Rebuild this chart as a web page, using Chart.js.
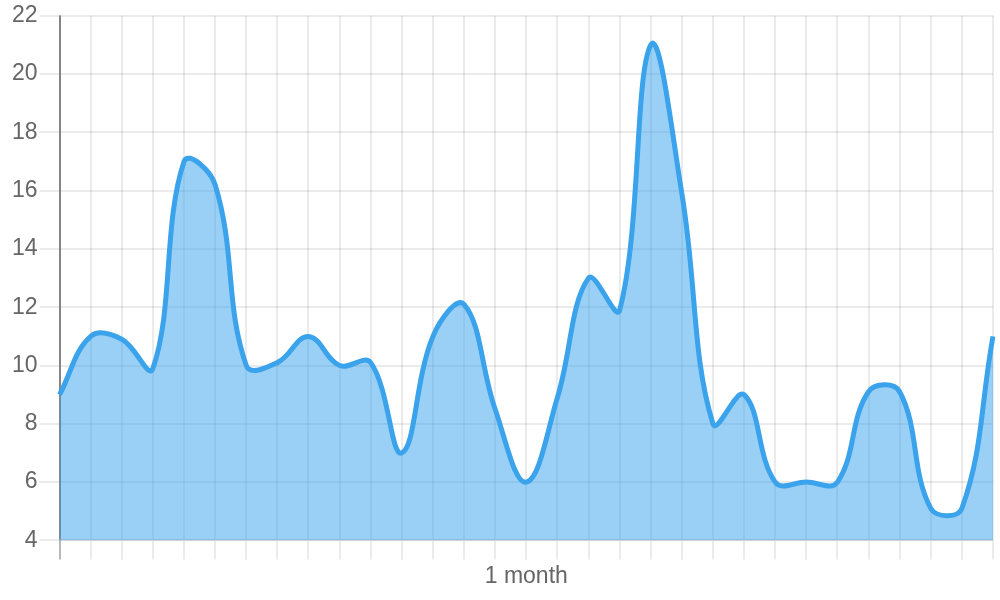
<!DOCTYPE html>
<html>
<head>
<meta charset="utf-8">
<script src="https://cdn.jsdelivr.net/npm/chart.js@4/dist/chart.umd.min.js"></script>
<style>
	html, body { margin: 0; padding: 0; background: #fff; }
	#wrap { width: 1000px; height: 600px; }
</style>
</head>
<body>
<div id="wrap"><canvas id="myChart"></canvas></div>
<script>
const labels = ['', '', '', '', '', '', '', '', '', '', '', '', '', '', '', '1 month',
	'', '', '', '', '', '', '', '', '', '', '', '', '', '', ''];
const values = [9, 11, 10.9, 9.9, 17.0, 16.2, 10, 10.1, 11, 10, 10.1, 7, 11, 12.1, 8.5, 6,
	8.9, 13, 11.9, 21, 15.9, 8, 9, 6, 6, 6, 9.1, 9.1, 5.1, 5.1, 11];
const yMin = 4;
const yMax = 22;
const yStep = 2;

const ctx = document.getElementById('myChart').getContext('2d');

const gridColor = 'rgba(0,0,0,0.08)';
const axisColor = 'rgba(0,0,0,0.28)';
const tickFont = { size: 23, family: 'Liberation Sans, Arial, sans-serif' };

const data = {
	labels: labels,
	datasets: [{
		data: values,
		borderColor: '#3aa3eb',
		backgroundColor: 'rgba(54, 162, 235, 0.5)',
		borderWidth: 5,
		pointRadius: 0,
		tension: 0.4,
		fill: true
	}]
};

const config = {
	type: 'line',
	data: data,
	options: {
		responsive: true,
		maintainAspectRatio: false,
		animation: false,
		layout: {
			padding: { left: 10, right: 7, bottom: 7, top: -1 }
		},
		plugins: {
			legend: { display: false },
			tooltip: { enabled: false }
		},
		scales: {
			x: {
				grid: {
					// first vertical line is the darker zero line
					color: (c) => c.index === 0 ? axisColor : gridColor,
					lineWidth: 2,
					tickLength: 19
				},
				border: { color: gridColor, width: 2 },
				ticks: {
					autoSkip: false,
					maxRotation: 0,
					color: '#666',
					font: tickFont
				}
			},
			y: {
				min: yMin,
				max: yMax,
				grid: {
					color: gridColor,
					lineWidth: 2,
					tickLength: 20
				},
				border: { color: axisColor, width: 2 },
				ticks: {
					stepSize: yStep,
					padding: 2,
					color: '#666',
					font: tickFont
				}
			}
		}
	}
};

const myChart = new Chart(ctx, config);
</script>
</body>
</html>
